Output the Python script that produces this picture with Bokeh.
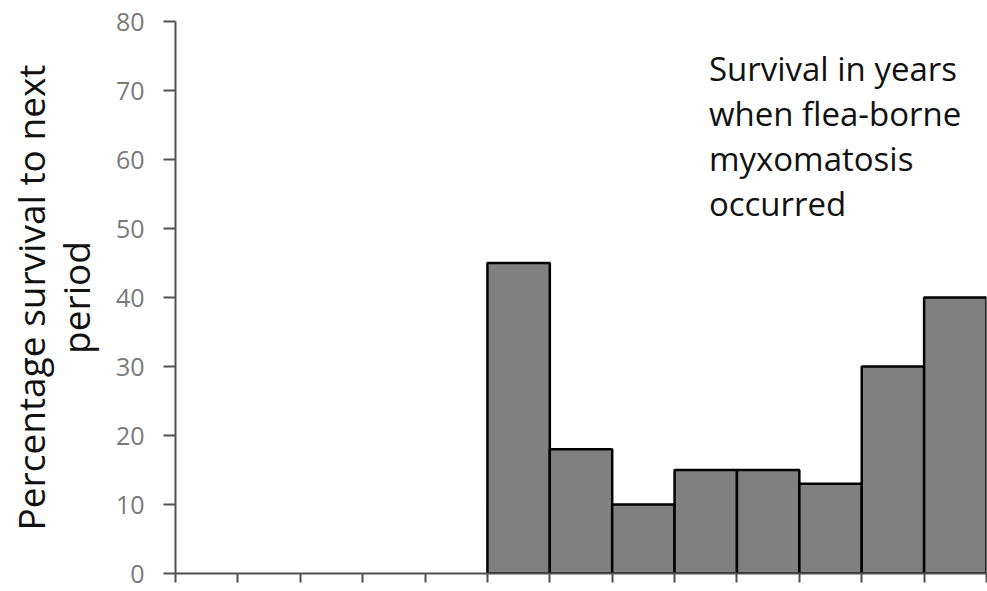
from bokeh.plotting import figure
from bokeh.models import FixedTicker, Label, CustomJSTickFormatter
from bokeh.embed import file_html
from bokeh.resources import INLINE

# ---- data ----
n_periods = 13
bar_periods = [5, 6, 7, 8, 9, 10, 11, 12]          # index of period (0-based) with data
survival = [45, 18, 10, 15, 15, 13, 30, 40]          # percentage survival to next period
y_ticks = [0, 10, 20, 30, 40, 50, 60, 70, 80]
y_title = "Percentage survival to next\nperiod"
note_text = "Survival in years\nwhen flea-borne\nmyxomatosis\noccurred"

FONT = "Open Sans"

p = figure(width=987, height=591, output_backend="svg", toolbar_location=None,
           x_range=(0, n_periods), y_range=(0, 80),
           min_border_left=175, min_border_right=1, min_border_top=21, min_border_bottom=18)
p.outline_line_color = None
p.xgrid.grid_line_color = None
p.ygrid.grid_line_color = None
p.background_fill_color = "white"
p.border_fill_color = "white"

centers = [i + 0.5 for i in bar_periods]
p.vbar(x=centers, top=survival, width=1.0, bottom=0,
       fill_color="#808080", line_color="black", line_width=2.5)

# y axis
ya = p.yaxis[0]
ya.ticker = FixedTicker(ticks=y_ticks)
ya.axis_line_color = "#505050"
ya.axis_line_width = 2
ya.major_tick_line_color = "#505050"
ya.major_tick_line_width = 2
ya.major_tick_in = 0
ya.major_tick_out = 12
ya.minor_tick_line_color = None
ya.major_label_text_font = FONT
ya.major_label_text_font_size = "25px"
ya.major_label_text_color = "#7a7a7a"
ya.major_label_standoff = 19
ya.axis_label = y_title
ya.axis_label_text_font = FONT
ya.axis_label_text_font_size = "37px"
ya.axis_label_text_font_style = "normal"
ya.axis_label_text_color = "#111111"
ya.axis_label_text_line_height = 0.88
ya.axis_label_standoff = 12

# x axis
xa = p.xaxis[0]
xa.ticker = FixedTicker(ticks=list(range(n_periods + 1)))
xa.formatter = CustomJSTickFormatter(code="return ''")
xa.axis_line_color = "#505050"
xa.axis_line_width = 2
xa.major_tick_line_color = "#505050"
xa.major_tick_line_width = 2
xa.major_tick_in = 0
xa.major_tick_out = 9
xa.minor_tick_line_color = None
xa.major_label_text_font_size = "1px"
xa.major_label_standoff = 0

# annotation
p.add_layout(Label(x=8.55, y=76.5, text=note_text, text_align="left",
                   text_baseline="top", text_line_height=1.0,
                   text_font=FONT, text_font_size="33px", text_color="#111111"))

open("out.html", "w").write(file_html(p, INLINE))
